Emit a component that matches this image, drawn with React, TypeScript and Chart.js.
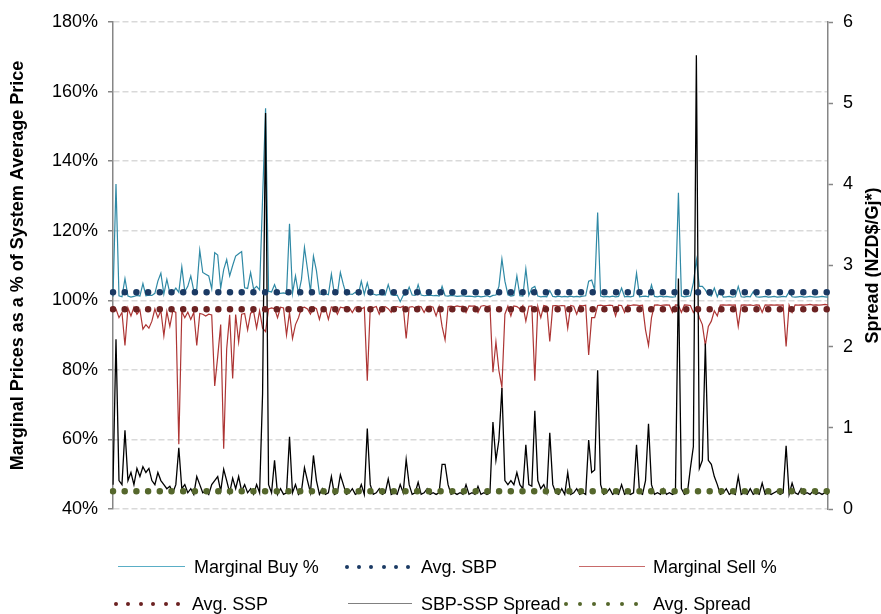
import React, { useEffect, useRef } from "react";
import { Chart, registerables } from "chart.js";

Chart.register(...registerables);

// Marginal buy price as % of system average price (daily, left axis)
const marginalBuy = [
  101.0, 133.4, 101.3, 101.0, 106.2, 101.2, 100.9, 101.1, 101.4, 101.2,
  104.8, 101.3, 101.5, 101.4, 102.0, 105.5, 107.8, 101.8, 106.0, 102.0,
  102.2, 103.5, 102.3, 109.6, 102.5, 104.0, 107.0, 102.8, 103.2, 114.4,
  108.0, 107.5, 107.0, 103.3, 113.7, 113.0, 103.5, 108.8, 111.7, 107.0,
  110.0, 112.7, 113.4, 114.0, 103.6, 103.4, 108.0, 103.2, 104.0, 103.0,
  129.3, 155.2, 102.6, 102.4, 104.5, 102.2, 102.0, 102.1, 101.9, 122.0,
  102.0, 107.0, 101.8, 106.0, 115.2, 109.0, 102.5, 112.7, 108.5, 101.8,
  101.7, 101.9, 101.6, 107.5, 101.8, 101.7, 108.0, 104.5, 101.6, 101.8,
  101.7, 102.3, 101.6, 105.5, 101.7, 105.0, 101.6, 101.8, 101.5, 101.7,
  101.6, 101.5, 104.5, 101.6, 101.4, 101.5, 99.6, 101.4, 101.6, 103.8,
  101.5, 101.4, 104.5, 101.5, 101.3, 101.4, 101.5, 101.3, 101.4, 101.2,
  104.0, 101.3, 101.2, 101.4, 101.3, 101.1, 101.2, 101.3, 101.1, 101.2,
  101.1, 101.0, 101.2, 101.0, 101.1, 101.3, 101.0, 101.4, 101.5, 104.0,
  111.9, 105.5, 101.6, 101.2, 101.4, 107.0, 101.3, 101.2, 109.0, 101.4,
  103.5, 104.0, 101.2, 101.0, 101.1, 101.0, 102.8, 101.1, 101.0, 101.2,
  101.0, 101.1, 101.0, 101.2, 101.0, 101.1, 101.0, 101.2, 101.3, 105.5,
  105.8, 103.0, 125.2, 101.2, 101.0, 101.1, 101.0, 101.2, 101.0, 101.1,
  103.5, 101.0, 101.1, 101.0, 101.2, 107.8, 101.0, 101.1, 101.2, 101.0,
  104.4, 101.1, 101.0, 101.2, 101.0, 101.1, 101.0, 100.9, 101.0, 130.9,
  101.2, 101.0, 101.1, 101.3, 105.0, 111.6, 104.0, 104.0, 103.0, 101.5,
  101.2, 103.5, 101.0, 103.0, 100.9, 101.0, 101.1, 100.9, 101.0, 104.0,
  101.0, 100.9, 101.1, 101.0, 102.5, 101.0, 100.9, 101.0, 101.1, 100.9,
  101.0, 101.1, 100.9, 101.0, 101.1, 101.0, 102.5, 101.0, 100.9, 101.0,
  101.1, 100.9, 101.0, 101.1, 101.0, 100.9, 101.0, 101.1, 101.0, 100.9,
];

// Marginal sell price as % of system average price (daily, left axis)
const marginalSell = [
  98.3, 97.5, 95.0, 96.5, 87.0, 97.8, 95.5, 98.0, 96.0, 97.2,
  91.7, 93.0, 92.0, 94.0, 97.5, 95.0, 97.0, 89.8, 96.8, 92.5,
  97.0, 96.5, 58.6, 96.8, 95.0, 96.6, 94.5, 96.5, 87.0, 96.2,
  96.0, 95.5, 96.0, 95.8, 75.4, 83.8, 93.0, 57.3, 86.0, 95.8,
  77.5, 95.9, 88.0, 96.0, 96.2, 91.5, 96.3, 96.8, 92.0, 97.0,
  92.0, 91.0, 97.5, 97.8, 97.6, 95.0, 98.0, 97.8, 90.0, 96.5,
  89.0, 93.0, 95.0, 97.8, 98.0, 97.5, 96.0, 98.1, 97.6, 94.5,
  98.0, 97.7, 94.5, 98.1, 97.9, 96.0, 98.0, 97.8, 98.1, 97.9,
  96.5, 98.0, 98.2, 97.5, 98.0, 76.9, 98.1, 97.9, 98.2, 96.0,
  98.0, 98.2, 97.6, 96.5, 98.1, 98.2, 97.9, 98.3, 89.0, 98.0,
  98.2, 97.8, 98.3, 98.1, 96.5, 98.2, 98.3, 98.0, 95.5, 98.2,
  92.5, 88.6, 98.2, 98.3, 98.1, 98.4, 98.2, 98.3, 96.5, 98.4,
  98.3, 98.4, 96.5, 98.3, 98.5, 98.2, 98.4, 79.3, 88.0, 79.8,
  75.0, 96.0, 98.3, 95.5, 98.4, 98.2, 97.5, 98.5, 94.0, 98.3,
  98.4, 76.9, 98.2, 95.0, 98.5, 98.3, 88.2, 98.4, 98.5, 98.3,
  98.5, 98.4, 92.0, 98.5, 98.3, 96.0, 98.5, 98.4, 98.6, 84.3,
  95.0, 95.0, 98.5, 98.6, 98.4, 98.5, 98.6, 98.5, 95.5, 98.6,
  98.5, 96.5, 98.6, 98.5, 98.7, 98.6, 98.5, 98.6, 91.5, 87.0,
  95.0, 98.6, 98.7, 98.5, 98.6, 98.7, 98.6, 96.5, 98.7, 98.6,
  96.5, 98.7, 98.6, 98.5, 96.5, 98.0, 95.0, 93.0, 87.0, 92.5,
  94.0, 97.0, 95.5, 98.6, 98.7, 98.6, 98.7, 98.6, 98.7, 92.5,
  98.6, 98.7, 98.6, 98.7, 98.5, 98.7, 98.6, 96.5, 98.7, 98.6,
  98.7, 98.6, 98.7, 98.6, 98.7, 86.7, 98.6, 96.5, 98.7, 98.6,
  98.7, 98.6, 98.7, 98.8, 98.6, 98.7, 98.6, 98.7, 98.8, 98.6,
];

// SBP-SSP spread in NZD$/GJ (daily, right axis)
const spread = [
  0.30, 2.09, 0.35, 0.30, 0.97, 0.35, 0.45, 0.30, 0.50, 0.40,
  0.52, 0.45, 0.50, 0.35, 0.30, 0.45, 0.35, 0.30, 0.25, 0.28,
  0.20, 0.30, 0.755, 0.25, 0.30, 0.20, 0.25, 0.18, 0.40, 0.30,
  0.20, 0.22, 0.18, 0.30, 0.35, 0.40, 0.22, 0.49, 0.35, 0.20,
  0.38, 0.25, 0.40, 0.22, 0.30, 0.20, 0.25, 0.18, 0.30, 0.20,
  1.42, 4.88, 0.30, 0.20, 0.60, 0.18, 0.25, 0.18, 0.20, 0.89,
  0.20, 0.30, 0.18, 0.22, 0.51, 0.35, 0.20, 0.66, 0.35, 0.18,
  0.25, 0.18, 0.20, 0.40, 0.18, 0.20, 0.42, 0.30, 0.18, 0.20,
  0.25, 0.18, 0.20, 0.30, 0.18, 0.99, 0.30, 0.18, 0.20, 0.25,
  0.18, 0.20, 0.37, 0.18, 0.20, 0.18, 0.30, 0.20, 0.61, 0.30,
  0.18, 0.20, 0.33, 0.18, 0.20, 0.25, 0.18, 0.20, 0.18, 0.20,
  0.55, 0.55, 0.30, 0.18, 0.20, 0.18, 0.20, 0.18, 0.30, 0.18,
  0.20, 0.18, 0.28, 0.18, 0.20, 0.18, 0.20, 1.07, 0.60, 0.85,
  1.49, 0.35, 0.30, 0.35, 0.30, 0.45, 0.30, 0.25, 0.79, 0.30,
  0.28, 1.21, 0.35, 0.25, 0.30, 0.20, 0.94, 0.30, 0.20, 0.18,
  0.25, 0.18, 0.45, 0.18, 0.20, 0.25, 0.18, 0.20, 0.18, 0.85,
  0.45, 0.48, 1.71, 0.30, 0.18, 0.20, 0.25, 0.18, 0.20, 0.18,
  0.30, 0.18, 0.20, 0.18, 0.20, 0.79, 0.20, 0.18, 0.35, 1.05,
  0.30, 0.18, 0.20, 0.18, 0.25, 0.18, 0.20, 0.18, 0.20, 2.84,
  0.25, 0.18, 0.20, 0.50, 0.77, 5.59, 0.50, 0.60, 2.04, 0.60,
  0.55, 0.40, 0.30, 0.18, 0.20, 0.25, 0.18, 0.20, 0.18, 0.40,
  0.18, 0.20, 0.18, 0.25, 0.18, 0.20, 0.18, 0.32, 0.18, 0.20,
  0.18, 0.20, 0.22, 0.18, 0.20, 0.78, 0.18, 0.32, 0.20, 0.18,
  0.25, 0.18, 0.20, 0.18, 0.22, 0.18, 0.20, 0.18, 0.20, 0.18,
];

// Period averages
const avgSBP = 102.3;
const avgSSP = 97.4;
const avgSpread = 0.22;

const leftTitle = "Marginal Prices as a % of System Average Price";
const rightTitle = "Spread (NZD$/Gj*)";

const FONT = '"Liberation Sans", Arial, Helvetica, sans-serif';

const COLORS = {
  buy: "#2f89a5",
  sbp: "#1b3a64",
  sell: "#ad3534",
  ssp: "#6b2222",
  spread: "#000000",
  avgSpread: "#55672c",
  axis: "#868686",
  grid: "#d9d9d9",
};

const rightTitlePlugin = {
  id: "rightTitle",
  afterDraw(chart: any) {
    const { ctx, chartArea } = chart;
    ctx.save();
    ctx.translate(873, (chartArea.top + chartArea.bottom) / 2);
    ctx.rotate(-Math.PI / 2);
    ctx.font = `bold 18px ${FONT}`;
    ctx.fillStyle = "#000";
    ctx.textAlign = "center";
    ctx.textBaseline = "middle";
    ctx.fillText(rightTitle, 0, 0);
    ctx.restore();
  },
};

type LegendItem = {
  label: string;
  kind: "line" | "dots";
  color: string;
  x0: number;
  x1: number;
  tx: number;
  y: number;
};

const legendItems: LegendItem[] = [
  { label: "Marginal Buy %", kind: "line", color: "#5aaec6", x0: 118, x1: 185, tx: 194, y: 567 },
  { label: "Avg. SBP", kind: "dots", color: COLORS.sbp, x0: 347, x1: 408, tx: 421, y: 567 },
  { label: "Marginal Sell %", kind: "line", color: "#c86a6a", x0: 579, x1: 645, tx: 653, y: 567 },
  { label: "Avg. SSP", kind: "dots", color: COLORS.ssp, x0: 116, x1: 178, tx: 192, y: 604 },
  { label: "SBP-SSP Spread", kind: "line", color: "#808080", x0: 348, x1: 412, tx: 421, y: 604 },
  { label: "Avg. Spread", kind: "dots", color: COLORS.avgSpread, x0: 566, x1: 636, tx: 653, y: 604 },
];

function Legend() {
  return (
    <>
      {legendItems.map((it) => (
        <React.Fragment key={it.label}>
          {it.kind === "line" ? (
            <div
              style={{
                position: "absolute",
                left: it.x0,
                top: it.y - 1,
                width: it.x1 - it.x0,
                height: 0,
                borderTop: `1.5px solid ${it.color}`,
              }}
            />
          ) : (
            [0, 1, 2, 3, 4, 5].map((k) => (
              <div
                key={k}
                style={{
                  position: "absolute",
                  left: it.x0 + (k * (it.x1 - it.x0)) / 5 - 2,
                  top: it.y - 2,
                  width: 4,
                  height: 4,
                  borderRadius: 2,
                  background: it.color,
                }}
              />
            ))
          )}
          <div
            style={{
              position: "absolute",
              left: it.tx,
              top: it.y - 11,
              height: 22,
              lineHeight: "22px",
              fontFamily: FONT,
              fontSize: 18,
              color: "#000",
              whiteSpace: "nowrap",
              letterSpacing: "-0.1px",
            }}
          >
            {it.label}
          </div>
        </React.Fragment>
      ))}
    </>
  );
}

export default function App() {
  const canvasRef = useRef<HTMLCanvasElement | null>(null);

  useEffect(() => {
    if (!canvasRef.current) return;
    const days = marginalBuy.map((_, i) => String(i + 1));
    const dotLine = (label: string, value: number, color: string, axis: string) => ({
      label,
      data: days.map(() => value),
      yAxisID: axis,
      borderColor: color,
      backgroundColor: color,
      borderWidth: 6.5,
      borderDash: [0, 11.7],
      borderCapStyle: "round" as const,
      pointRadius: 0,
      fill: false,
      order: 0,
    });
    const chart = new Chart(canvasRef.current, {
      type: "line",
      data: {
        labels: days,
        datasets: [
          {
            label: "Marginal Buy %",
            data: marginalBuy,
            yAxisID: "y",
            borderColor: COLORS.buy,
            borderWidth: 1.2,
            pointRadius: 0,
            tension: 0,
            order: 3,
          },
          dotLine("Avg. SBP", avgSBP, COLORS.sbp, "y"),
          {
            label: "Marginal Sell %",
            data: marginalSell,
            yAxisID: "y",
            borderColor: COLORS.sell,
            borderWidth: 1.2,
            pointRadius: 0,
            tension: 0,
            order: 2,
          },
          dotLine("Avg. SSP", avgSSP, COLORS.ssp, "y"),
          {
            label: "SBP-SSP Spread",
            data: spread,
            yAxisID: "y2",
            borderColor: COLORS.spread,
            borderWidth: 1.3,
            pointRadius: 0,
            tension: 0,
            order: 1,
          },
          dotLine("Avg. Spread", avgSpread, COLORS.avgSpread, "y2"),
        ],
      },
      options: {
        responsive: false,
        animation: false,
        devicePixelRatio: 1,
        layout: { padding: { top: 22, bottom: 105, left: 0, right: 0 } },
        plugins: {
          legend: { display: false },
          tooltip: { enabled: false },
        },
        scales: {
          x: { display: false, offset: false },
          y: {
            position: "left",
            min: 40,
            max: 180,
            afterFit: (s: any) => {
              s.width = 113;
            },
            ticks: {
              stepSize: 20,
              callback: (v: any) => `${v}%`,
              font: { family: FONT, size: 18 },
              color: "#000",
              padding: 10,
            },
            grid: {
              color: COLORS.grid,
              lineWidth: 1.5,
              drawTicks: true,
              tickLength: 5,
              tickColor: COLORS.axis,
              tickWidth: 1.5,
              tickBorderDash: [],
            },
            border: { display: true, color: COLORS.axis, width: 1.5, dash: [6, 3] },
            title: {
              display: true,
              text: leftTitle,
              font: { family: FONT, size: 18, weight: "bold" },
              color: "#000",
              padding: { top: 7, bottom: 0 },
            },
          },
          y2: {
            position: "right",
            min: 0,
            max: 6,
            afterFit: (s: any) => {
              s.width = 53;
            },
            ticks: {
              stepSize: 1,
              font: { family: FONT, size: 18 },
              color: "#000",
              padding: 10,
            },
            grid: {
              drawOnChartArea: false,
              drawTicks: true,
              tickLength: 5,
              tickColor: COLORS.axis,
              tickWidth: 1.5,
            },
            border: { display: true, color: COLORS.axis, width: 1.5 },
          },
        },
      } as any,
      plugins: [rightTitlePlugin],
    });
    return () => chart.destroy();
  }, []);

  return (
    <div style={{ position: "absolute", left: 0, top: 0, width: 881, height: 614, background: "#fff", overflow: "hidden" }}>
      <canvas ref={canvasRef} width={881} height={614} style={{ display: "block", width: 881, height: 614 }} />
      <Legend />
    </div>
  );
}
